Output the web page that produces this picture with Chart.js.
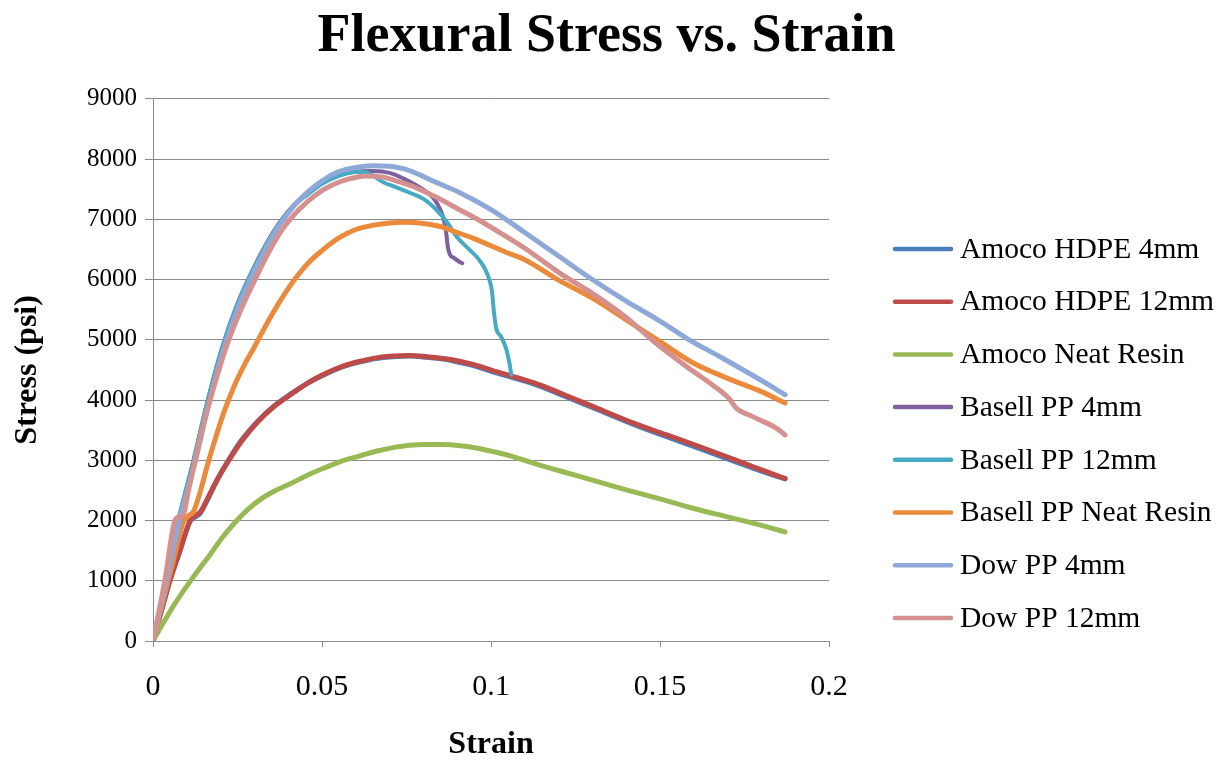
<!DOCTYPE html>
<html>
<head>
<meta charset="utf-8">
<title>Flexural Stress vs. Strain</title>
<script src="https://cdn.jsdelivr.net/npm/chart.js@4.4.1/dist/chart.umd.min.js"></script>
<style>
  html, body { margin: 0; padding: 0; background: #ffffff; }
  canvas { display: block; }
</style>
</head>
<body>
<canvas id="chart" width="1229" height="761"></canvas>
<script>
// ---- Axis ticks -------------------------------------------------------
const strainTicks = [0, 0.05, 0.1, 0.15, 0.2];
const stressTicks = [0, 1000, 2000, 3000, 4000, 5000, 6000, 7000, 8000, 9000];

// ---- Series names and colours ---------------------------------------
const seriesNames = [
  'Amoco HDPE 4mm', 'Amoco HDPE 12mm', 'Amoco Neat Resin',
  'Basell PP 4mm', 'Basell PP 12mm', 'Basell PP Neat Resin',
  'Dow PP 4mm', 'Dow PP 12mm'
];
const seriesColors = [
  '#4A7EBB', '#BE4B48', '#98B954',
  '#7D60A0', '#46AAC5', '#EC8A3C',
  '#8EA9D8', '#D5918F'
];

// ---- Measured curves (strain, stress in psi) --------------------------
const amocoHdpe4Strain = [0, 0.003, 0.005, 0.008, 0.011, 0.0125, 0.014, 0.016, 0.019, 0.022, 0.026, 0.031, 0.036, 0.041, 0.046, 0.051, 0.056, 0.061, 0.066, 0.071, 0.076, 0.081, 0.086, 0.091, 0.096, 0.101, 0.106, 0.114, 0.122, 0.132, 0.142, 0.152, 0.162, 0.172, 0.18, 0.187];
const amocoHdpe4Stress = [0, 610, 1010, 1510, 1990, 2060, 2120, 2330, 2670, 2970, 3320, 3650, 3910, 4110, 4290, 4430, 4550, 4630, 4690, 4720, 4730, 4710, 4680, 4620, 4550, 4460, 4380, 4240, 4060, 3830, 3600, 3390, 3190, 2980, 2820, 2690];

const amocoHdpe12Strain = [0, 0.003, 0.005, 0.008, 0.011, 0.0125, 0.014, 0.016, 0.019, 0.022, 0.026, 0.031, 0.036, 0.041, 0.046, 0.051, 0.056, 0.061, 0.066, 0.071, 0.076, 0.081, 0.086, 0.091, 0.096, 0.101, 0.106, 0.114, 0.122, 0.132, 0.142, 0.152, 0.162, 0.172, 0.18, 0.187];
const amocoHdpe12Stress = [0, 600, 1000, 1500, 2000, 2080, 2140, 2350, 2680, 2960, 3300, 3640, 3900, 4100, 4290, 4440, 4560, 4640, 4700, 4730, 4740, 4720, 4690, 4640, 4570, 4480, 4400, 4260, 4080, 3850, 3620, 3420, 3220, 3010, 2840, 2700];

const amocoNeatStrain = [0, 0.002, 0.004, 0.006, 0.008, 0.011, 0.014, 0.017, 0.02, 0.024, 0.028, 0.032, 0.036, 0.041, 0.046, 0.051, 0.056, 0.061, 0.066, 0.071, 0.076, 0.081, 0.086, 0.091, 0.096, 0.101, 0.106, 0.112, 0.12, 0.13, 0.14, 0.15, 0.16, 0.17, 0.18, 0.187];
const amocoNeatStress = [0, 200, 390, 580, 750, 990, 1220, 1440, 1680, 1950, 2180, 2360, 2490, 2620, 2760, 2880, 2990, 3070, 3150, 3210, 3250, 3260, 3260, 3240, 3200, 3140, 3070, 2960, 2830, 2670, 2510, 2360, 2200, 2060, 1920, 1810];

const basell4Strain = [0, 0.004, 0.0075, 0.012, 0.016, 0.0205, 0.025, 0.029, 0.033, 0.037, 0.041, 0.0455, 0.05, 0.055, 0.06, 0.065, 0.07, 0.074, 0.078, 0.081, 0.083, 0.085, 0.086, 0.0868, 0.0872, 0.0878, 0.089, 0.0905, 0.0915];
const basell4Stress = [0, 1050, 2000, 3000, 3950, 4880, 5600, 6100, 6540, 6910, 7200, 7420, 7600, 7730, 7790, 7800, 7770, 7680, 7560, 7450, 7350, 7160, 7000, 6750, 6550, 6420, 6360, 6300, 6270];

const basell12Strain = [0, 0.004, 0.0075, 0.012, 0.016, 0.0205, 0.025, 0.029, 0.033, 0.037, 0.041, 0.0455, 0.05, 0.055, 0.06, 0.064, 0.068, 0.072, 0.076, 0.08, 0.084, 0.087, 0.09, 0.093, 0.096, 0.098, 0.0995, 0.1003, 0.1008, 0.1015, 0.103, 0.1045, 0.1055, 0.106];
const basell12Stress = [0, 1050, 2000, 3000, 3950, 4880, 5600, 6100, 6530, 6900, 7190, 7400, 7590, 7720, 7790, 7760, 7620, 7530, 7440, 7340, 7150, 6950, 6700, 6530, 6360, 6200, 6000, 5800, 5500, 5200, 5050, 4850, 4600, 4420];

const basellNeatStrain = [0, 0.003, 0.006, 0.009, 0.0105, 0.012, 0.014, 0.016, 0.018, 0.021, 0.024, 0.027, 0.03, 0.034, 0.038, 0.042, 0.046, 0.05, 0.055, 0.06, 0.065, 0.07, 0.075, 0.08, 0.085, 0.09, 0.095, 0.1, 0.105, 0.11, 0.12, 0.13, 0.14, 0.15, 0.16, 0.17, 0.18, 0.187];
const basellNeatStress = [0, 670, 1330, 1980, 2080, 2150, 2480, 2900, 3280, 3800, 4230, 4580, 4880, 5300, 5680, 6010, 6280, 6480, 6690, 6830, 6900, 6940, 6950, 6930, 6880, 6780, 6680, 6560, 6440, 6330, 5990, 5690, 5330, 4970, 4610, 4360, 4140, 3950];

const dow4Strain = [0, 0.004, 0.0078, 0.0125, 0.0165, 0.021, 0.0255, 0.0295, 0.0335, 0.0375, 0.0415, 0.0455, 0.05, 0.055, 0.06, 0.065, 0.07, 0.074, 0.078, 0.083, 0.0905, 0.1, 0.11, 0.12, 0.13, 0.14, 0.15, 0.158, 0.168, 0.178, 0.187];
const dow4Stress = [0, 1000, 1980, 2980, 3930, 4860, 5580, 6080, 6530, 6910, 7210, 7440, 7640, 7790, 7860, 7890, 7880, 7840, 7760, 7630, 7450, 7160, 6780, 6390, 6000, 5640, 5310, 5020, 4710, 4390, 4090];

const dow12Strain = [0, 0.0035, 0.0065, 0.0078, 0.009, 0.0105, 0.0125, 0.0145, 0.0169, 0.0195, 0.0223, 0.026, 0.0302, 0.0345, 0.0385, 0.043, 0.048, 0.053, 0.058, 0.063, 0.068, 0.073, 0.078, 0.084, 0.09, 0.096, 0.102, 0.11, 0.12, 0.13, 0.14, 0.148, 0.158, 0.166, 0.1705, 0.1725, 0.1776, 0.1845, 0.187];
const dow12Stress = [0, 1000, 2000, 2060, 2100, 2500, 3000, 3500, 4000, 4500, 4980, 5500, 6000, 6480, 6850, 7150, 7400, 7570, 7670, 7720, 7700, 7620, 7520, 7360, 7180, 7000, 6800, 6520, 6120, 5770, 5370, 4980, 4550, 4230, 4020, 3870, 3720, 3530, 3420];

const seriesStrain = [amocoHdpe4Strain, amocoHdpe12Strain, amocoNeatStrain, basell4Strain, basell12Strain, basellNeatStrain, dow4Strain, dow12Strain];
const seriesStress = [amocoHdpe4Stress, amocoHdpe12Stress, amocoNeatStress, basell4Stress, basell12Stress, basellNeatStress, dow4Stress, dow12Stress];
const seriesLineWidths = [5, 5, 5, 4, 4, 5, 5, 5];

const SERIF = "'Liberation Serif', 'Times New Roman', serif";
const GRID = '#8a8a8a';

// Legend drawn at the right of the plot: a short line sample and the series name.
const seriesKey = {
  id: 'seriesKey',
  afterDraw(chart, args, opts) {
    const { ctx, chartArea } = chart;
    ctx.save();
    ctx.font = opts.font;
    ctx.textBaseline = 'middle';
    ctx.textAlign = 'left';
    chart.data.datasets.forEach((ds, i) => {
      const y = opts.top + i * opts.rowGap;
      const x0 = chartArea.right + opts.gap;
      ctx.strokeStyle = ds.borderColor;
      ctx.lineWidth = opts.lineWidth;
      ctx.lineCap = 'round';
      ctx.beginPath();
      ctx.moveTo(x0, y);
      ctx.lineTo(x0 + opts.lineLength, y);
      ctx.stroke();
      ctx.fillStyle = '#000000';
      ctx.fillText(ds.label, x0 + opts.lineLength + opts.textGap, y + 1);
    });
    ctx.restore();
  }
};

const datasets = seriesNames.map((name, i) => ({
  label: name,
  data: seriesStrain[i].map((x, k) => ({ x: x, y: seriesStress[i][k] })),
  borderColor: seriesColors[i],
  backgroundColor: seriesColors[i],
  borderWidth: seriesLineWidths[i],
  borderCapStyle: 'round',
  borderJoinStyle: 'round',
  pointRadius: 0,
  pointHoverRadius: 0,
  cubicInterpolationMode: 'monotone',
  fill: false,
  // later series are painted over earlier ones
  order: seriesNames.length - i,
  yAxisID: 'y'
}));

new Chart(document.getElementById('chart'), {
  type: 'line',
  data: { datasets },
  plugins: [seriesKey],
  options: {
    responsive: false,
    animation: false,
    devicePixelRatio: 1,
    layout: { padding: { top: 0, right: 16, bottom: 0, left: 0 } },
    plugins: {
      legend: { display: false },
      tooltip: { enabled: false },
      title: {
        display: true,
        text: 'Flexural Stress vs. Strain',
        color: '#000000',
        font: { family: SERIF, size: 54, weight: 'bold', lineHeight: 1.2 },
        padding: { top: 5, bottom: 29 }
      },
      seriesKey: {
        font: "29.5px " + SERIF,
        top: 249,
        rowGap: 52.7,
        gap: 66,
        lineLength: 56,
        lineWidth: 4.5,
        textGap: 9
      }
    },
    scales: {
      x: {
        type: 'linear',
        min: 0,
        max: 0.2,
        afterBuildTicks: s => { s.ticks = strainTicks.map(v => ({ value: v })); },
        afterFit: s => { s.height = 120; },
        ticks: {
          color: '#000000',
          font: { family: SERIF, size: 30 },
          padding: 22,
          maxRotation: 0,
          callback: v => String(Math.round(v * 100) / 100)
        },
        grid: { drawOnChartArea: false, drawTicks: true, tickLength: 6, color: GRID },
        border: { display: true, color: GRID, width: 1 },
        title: {
          display: true,
          text: 'Strain',
          color: '#000000',
          font: { family: SERIF, size: 32, weight: 'bold', lineHeight: 1 },
          padding: { top: 0, bottom: 0 }
        }
      },
      y: {
        type: 'linear',
        position: 'left',
        min: 0,
        max: 9000,
        afterBuildTicks: s => { s.ticks = stressTicks.map(v => ({ value: v })); },
        afterFit: s => { s.width = 153; },
        ticks: {
          color: '#000000',
          font: { family: SERIF, size: 25 },
          padding: 8,
          callback: v => String(v)
        },
        grid: { color: GRID, lineWidth: 1, drawTicks: true, tickLength: 8 },
        border: { display: true, color: GRID, width: 1 },
        title: {
          display: true,
          text: 'Stress (psi)',
          color: '#000000',
          font: { family: SERIF, size: 32, weight: 'bold', lineHeight: 1 },
          padding: { top: 12, bottom: 0 }
        }
      },
      key: {
        // empty band on the right that holds the legend
        type: 'linear',
        position: 'right',
        display: true,
        afterFit: s => { s.width = 384; },
        ticks: { display: false },
        grid: { display: false, drawTicks: false },
        border: { display: false }
      }
    }
  }
});
</script>
</body>
</html>
